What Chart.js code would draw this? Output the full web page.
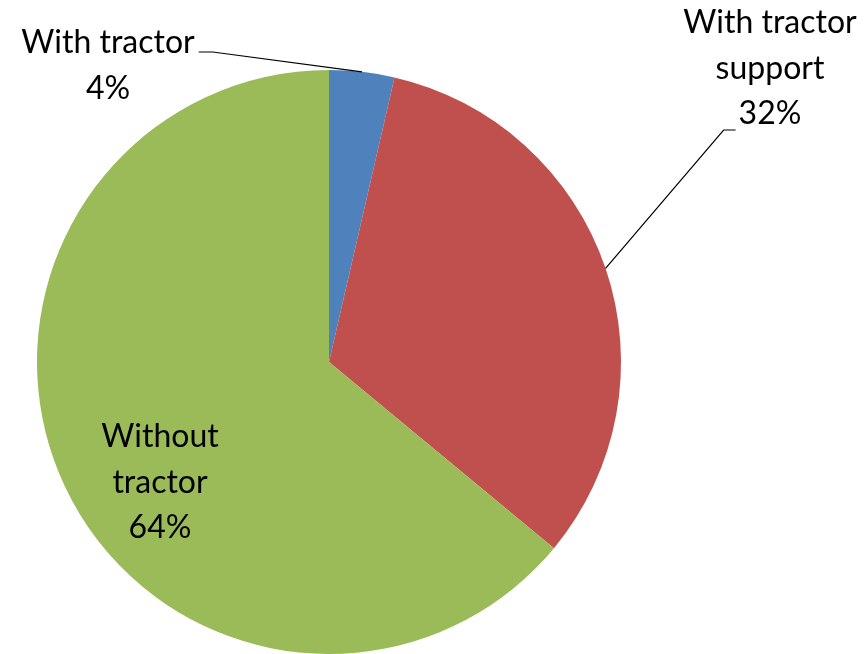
<!DOCTYPE html>
<html>
<head>
<meta charset="utf-8">
<script src="https://cdn.jsdelivr.net/npm/chart.js@4/dist/chart.umd.min.js"></script>
<style>
  html, body { margin: 0; padding: 0; background: #fff; }
  #wrap { width: 865px; height: 654px; position: relative; }
</style>
</head>
<body>
<div id="wrap"><canvas id="pie"></canvas></div>
<script>
// --- chart data ---
const categories = ['With tractor', 'With tractor support', 'Without tractor'];
const shares = [3.6, 32.4, 64.0];
const sliceColors = ['#4F81BD', '#C0504D', '#9BBB59'];

// label text broken into lines, as in the original
const labelLines = [
    ['With tractor'],
    ['With tractor', 'support'],
    ['Without', 'tractor']
];

// where each label block sits (centre x, first baseline y) and whether it gets a leader line
const LABEL_FONT = '32px Lato, "Open Sans", sans-serif';
const LINE_H = 45.5;
const labelPlaces = [
    { x: 108, y: 53, leader: true },
    { x: 770, y: 33, leader: true },
    { x: 160, y: 447, leader: false }
];

const dataLabels = {
    id: 'dataLabels',
    afterDatasetsDraw(chart) {
        const ctx = chart.ctx;
        const arcs = chart.getDatasetMeta(0).data;
        const total = shares.reduce((a, b) => a + b, 0);
        ctx.save();
        ctx.font = LABEL_FONT;
        ctx.fillStyle = '#000';
        ctx.textAlign = 'center';
        ctx.textBaseline = 'alphabetic';

        arcs.forEach((arc, i) => {
            const p = labelPlaces[i];
            const lines = labelLines[i].concat([Math.round(shares[i] / total * 100) + '%']);
            lines.forEach((t, k) => ctx.fillText(t, p.x, p.y + k * LINE_H));

            if (!p.leader) return;
            const mid = (arc.startAngle + arc.endAngle) / 2;
            const ex = arc.x + Math.cos(mid) * arc.outerRadius;
            const ey = arc.y + Math.sin(mid) * arc.outerRadius;
            ctx.strokeStyle = '#000';
            ctx.lineWidth = 1.2;
            ctx.beginPath();
            if (i === 0) {
                const w = ctx.measureText(lines[0]).width;
                const sx = p.x + w / 2 + 4;
                ctx.moveTo(sx, p.y - 1);
                ctx.lineTo(sx + 14, p.y - 1);
                ctx.lineTo(ex, ey);
            } else {
                const w = ctx.measureText(lines[lines.length - 1]).width;
                const sy = p.y + (lines.length - 1) * LINE_H + 6;
                const sx = p.x - w / 2 - 3;
                ctx.moveTo(sx, sy);
                ctx.lineTo(sx - 12, sy);
                ctx.lineTo(ex, ey);
            }
            ctx.stroke();
        });
        ctx.restore();
    }
};

new Chart(document.getElementById('pie'), {
    type: 'pie',
    data: {
        labels: categories,
        datasets: [{
            data: shares,
            backgroundColor: sliceColors,
            borderWidth: 0
        }]
    },
    options: {
        responsive: true,
        maintainAspectRatio: false,
        animation: false,
        layout: { padding: { left: 37, right: 244, top: 70, bottom: 0 } },
        plugins: {
            legend: { display: false },
            tooltip: { enabled: false }
        }
    },
    plugins: [dataLabels]
});
</script>
</body>
</html>
